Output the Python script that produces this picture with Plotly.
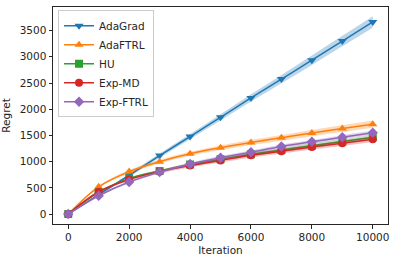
import plotly.graph_objects as go

iterations = [0, 1000, 2000, 3000, 4000, 5000, 6000, 7000, 8000, 9000, 10000]
adagrad = [0, 370, 740, 1115, 1478, 1845, 2215, 2575, 2935, 3300, 3665]
adaftrl = [0, 520, 810, 1000, 1150, 1265, 1365, 1455, 1545, 1630, 1715]
hu = [0, 415, 675, 820, 945, 1045, 1140, 1220, 1305, 1385, 1465]
exp_md = [0, 425, 660, 810, 925, 1022, 1120, 1200, 1277, 1350, 1425]
exp_ftrl = [0, 349, 610, 800, 955, 1075, 1180, 1290, 1378, 1465, 1550]

adagrad_err = [0, 20, 30, 40, 50, 60, 70, 80, 90, 100, 110]
adaftrl_err = [0, 20, 30, 35, 40, 45, 50, 55, 60, 65, 70]
hu_err = [0, 15, 20, 25, 30, 30, 35, 35, 40, 40, 45]
exp_md_err = [0, 20, 25, 30, 35, 40, 40, 45, 45, 50, 50]
exp_ftrl_err = [0, 15, 20, 25, 25, 30, 30, 35, 35, 40, 40]

x_ticks = [0, 2000, 4000, 6000, 8000, 10000]
x_ticklabels = ["0", "2000", "4000", "6000", "8000", "10000"]
y_ticks = [0, 500, 1000, 1500, 2000, 2500, 3000, 3500]
y_ticklabels = ["0", "500", "1000", "1500", "2000", "2500", "3000", "3500"]

series = [
    ("AdaGrad", adagrad, adagrad_err, "#1f77b4", "rgba(31,119,180,0.3)", "triangle-down"),
    ("AdaFTRL", adaftrl, adaftrl_err, "#ff7f0e", "rgba(255,127,14,0.3)", "triangle-up"),
    ("HU", hu, hu_err, "#2ca02c", "rgba(44,160,44,0.3)", "square"),
    ("Exp-MD", exp_md, exp_md_err, "#d62728", "rgba(214,39,40,0.3)", "circle"),
    ("Exp-FTRL", exp_ftrl, exp_ftrl_err, "#9467bd", "rgba(148,103,189,0.3)", "diamond"),
]

fig = go.Figure()
for name, vals, err, color, fillc, sym in series:
    upper = [v + e for v, e in zip(vals, err)]
    lower = [v - e for v, e in zip(vals, err)]
    fig.add_trace(go.Scatter(x=iterations, y=lower, mode="lines", line=dict(width=0, shape="spline"),
                             showlegend=False, hoverinfo="skip"))
    fig.add_trace(go.Scatter(x=iterations, y=upper, mode="lines", line=dict(width=0, shape="spline"),
                             fill="tonexty", fillcolor=fillc, showlegend=False, hoverinfo="skip"))
    fig.add_trace(go.Scatter(x=iterations, y=vals, mode="lines+markers", name=name,
                             line=dict(color=color, width=1.5, shape="spline"),
                             marker=dict(symbol=sym, size=8, color=color)))

axis_common = dict(showline=True, linecolor="#262626", linewidth=1, mirror=True, automargin=False,
                   ticks="outside", ticklen=3.5, tickcolor="#262626", showgrid=False, zeroline=False,
                   tickfont=dict(family="DejaVu Sans", size=10.5, color="#262626"))

fig.update_layout(
    width=395, height=262,
    margin=dict(l=53, r=7, t=7, b=38),
    paper_bgcolor="white", plot_bgcolor="white",
    font=dict(family="DejaVu Sans", size=10, color="#262626"),
    xaxis=dict(range=[-500, 10500], tickvals=x_ticks, ticktext=x_ticklabels,
               title=dict(text="Iteration", standoff=4, font=dict(size=10.5)), **axis_common),
    yaxis=dict(range=[-190, 3950], tickvals=y_ticks, ticktext=y_ticklabels,
               title=dict(text="Regret", standoff=7, font=dict(size=10.5)), **axis_common),
    legend=dict(x=0.015, y=0.985, xanchor="left", yanchor="top", traceorder="normal",
                bgcolor="rgba(255,255,255,0.8)", bordercolor="#cccccc", borderwidth=1,
                font=dict(size=10.5, color="#262626"), itemwidth=30),
    showlegend=True,
)

fig.write_html("out.html", config={"displayModeBar": False},
               post_script="document.body.style.margin='0';")
